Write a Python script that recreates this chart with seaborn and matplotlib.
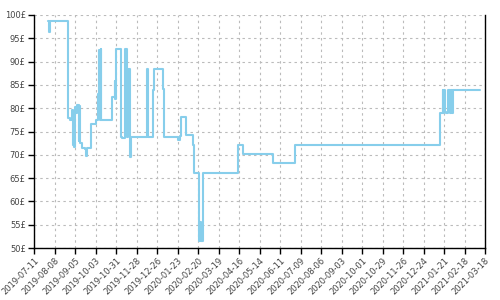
import matplotlib
matplotlib.use("Agg")
import matplotlib.pyplot as plt
import seaborn as sns
import pandas as pd

dates = [
    "2019-07-30", "2019-07-31", "2019-08-02", "2019-08-26", "2019-08-27", "2019-08-29",
    "2019-09-01", "2019-09-02", "2019-09-03", "2019-09-04", "2019-09-05", "2019-09-07",
    "2019-09-08", "2019-09-10", "2019-09-11", "2019-09-12", "2019-09-15", "2019-09-18",
    "2019-09-20", "2019-09-22", "2019-09-27", "2019-10-04", "2019-10-07", "2019-10-08",
    "2019-10-09", "2019-10-10", "2019-10-11", "2019-10-25", "2019-10-29", "2019-10-30",
    "2019-10-31", "2019-11-07", "2019-11-08", "2019-11-12", "2019-11-15", "2019-11-16",
    "2019-11-19", "2019-11-21", "2019-12-12", "2019-12-14", "2019-12-21", "2019-12-22",
    "2020-01-03", "2020-01-04", "2020-01-24", "2020-01-26", "2020-01-28", "2020-02-04",
    "2020-02-13", "2020-02-14", "2020-02-21", "2020-02-22", "2020-02-23", "2020-02-24",
    "2020-02-27", "2020-04-15", "2020-04-21", "2020-06-02", "2020-07-01", "2021-01-16",
    "2021-01-19", "2021-01-20", "2021-01-21", "2021-01-22", "2021-01-24", "2021-01-27",
    "2021-01-29", "2021-01-30", "2021-02-01", "2021-02-02", "2021-02-04", "2021-03-11",
]
prices = [
    98.8, 96.3, 98.8, 95.0, 78.0, 77.5,
    79.6, 72.0, 79.0, 71.7, 80.3, 79.0,
    80.6, 73.0, 80.5, 72.5, 71.5, 71.3,
    69.7, 71.5, 76.6, 77.5, 83.0, 92.5,
    77.5, 92.7, 77.5, 82.5, 85.8, 82.0,
    92.7, 73.9, 73.6, 92.7, 73.9, 88.5,
    69.5, 73.9, 88.5, 73.9, 83.8, 88.5,
    84.2, 73.9, 73.2, 74.0, 78.2, 74.3,
    72.1, 66.0, 55.6, 51.6, 55.6, 51.6,
    66.0, 72.1, 70.2, 68.2, 72.2, 79.0,
    83.8, 79.0, 83.8, 79.2, 79.0, 83.8,
    79.0, 83.8, 79.0, 83.8, 83.8, 83.8,
]
y_ticks = [50, 55, 60, 65, 70, 75, 80, 85, 90, 95, 100]
x_start = "2019-07-11"
x_end = "2021-03-18"

df = pd.DataFrame({"date": pd.to_datetime(dates), "price": prices})

sns.set_style("white")
plt.rcParams["font.family"] = ["DejaVu Sans"]

fig = plt.figure(figsize=(5, 3), dpi=100)
ax = fig.add_axes([0.068, 0.1733, 0.902, 0.7767])

sns.lineplot(data=df, x="date", y="price", ax=ax, color="#87CEEB",
             linewidth=1.5, drawstyle="steps-post", zorder=3)

ax.set_ylim(50, 100)
ax.set_yticks(y_ticks)
ax.set_yticklabels([f"{v}£" for v in y_ticks])
xs, xe = pd.Timestamp(x_start), pd.Timestamp(x_end)
ax.set_xlim(xs, xe)
xt = pd.date_range(xs, xe, freq="28D")
ax.set_xticks(xt)
ax.set_xticklabels([d.strftime("%Y-%m-%d") for d in xt], rotation=45,
                   ha="right", rotation_mode="anchor")

ax.grid(True, color="#bbbbbb", linestyle=(0, (2.2, 3)), linewidth=0.8, zorder=0)
ax.set_axisbelow(True)
ax.set_xlabel("")
ax.set_ylabel("")

for s in ["left", "bottom", "right"]:
    ax.spines[s].set_visible(True)
    ax.spines[s].set_color("black")
    ax.spines[s].set_linewidth(1.0)
ax.spines["top"].set_visible(False)

ax.tick_params(axis="both", which="major", length=4, width=1, color="black",
               labelsize=6, labelcolor="#444444", pad=2, direction="out",
               left=True, bottom=True)

fig.savefig("out.png", dpi=100)
